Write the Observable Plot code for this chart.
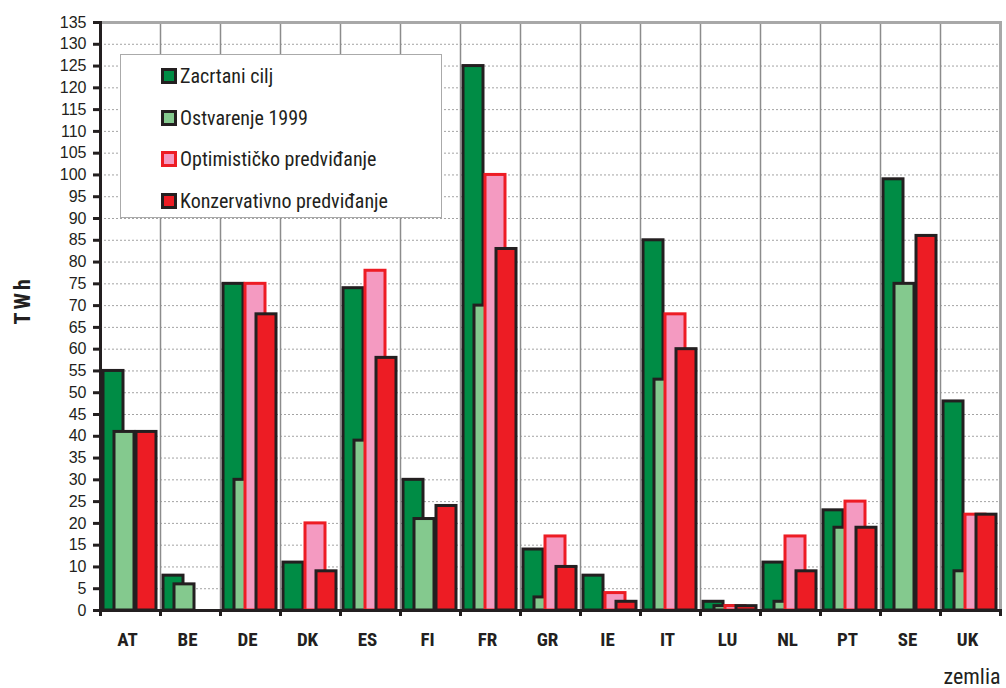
<!DOCTYPE html>
<html>
<head>
<meta charset="utf-8">
<script src="https://cdn.jsdelivr.net/npm/d3@7"></script>
<script src="https://cdn.jsdelivr.net/npm/@observablehq/plot@0.6"></script>
<style>
  html, body { margin: 0; padding: 0; background: #fff; }
  #wrap { position: relative; width: 1006px; height: 688px; }
  #legend { position: absolute; left: 120px; top: 54px; width: 320px; height: 162px;
    border: 1.5px solid #aaaaaa; background: #fff;
    font-family: "Liberation Sans Narrow", "Roboto Condensed", "DejaVu Sans Condensed", sans-serif;
    font-size: 20px; color: #231f20; }
  .item { position: absolute; left: 40px; height: 20px; display: flex; align-items: center; }
  .sw { width: 10px; height: 10px; border: 3px solid #231f20; margin-right: 3px; }
  .twh { letter-spacing: 3px; }
</style>
</head>
<body>
<div id="wrap"><div id="chart"></div><div id="legend"></div></div>
<script>
const countries = ["AT","BE","DE","DK","ES","FI","FR","GR","IE","IT","LU","NL","PT","SE","UK"];
const zacrtaniCilj = [55, 8, 75, 11, 74, 30, 125, 14, 8, 85, 2, 11, 23, 99, 48];
const ostvarenje1999 = [41, 6, 30, null, 39, 21, 70, 3, null, 53, 1, 2, 19, 75, 9];
const optimisticko = [null, null, 75, 20, 78, null, 100, 17, 4, 68, 1, 17, 25, null, 22];
const konzervativno = [41, null, 68, 9, 58, 24, 83, 10, 2, 60, 1, 9, 19, 86, 22];
const seriesNames = ["Zacrtani cilj", "Ostvarenje 1999", "Optimističko predviđanje", "Konzervativno predviđanje"];
const yTicks = d3.range(0, 136, 5);

const seriesValues = [zacrtaniCilj, ostvarenje1999, optimisticko, konzervativno];
const fills = ["#008c45", "#84c98e", "#f49ac1", "#ed1c24"];
const strokes = ["#231f20", "#231f20", "#ed1c24", "#231f20"];
const dark = "#231f20";

const tables = seriesValues.map(vals =>
  countries.map((c, i) => ({country: c, value: vals[i]})).filter(d => d.value != null)
);

const narrow = "'Liberation Sans Narrow', 'Roboto Condensed', 'DejaVu Sans Condensed', sans-serif";

const barMarks = tables.map((t, i) => Plot.rectY(t, {
  x: "country", y: "value",
  insetLeft: 3 + 11 * i, insetRight: 37 - 11 * i,
  fill: fills[i], stroke: strokes[i], strokeWidth: 3
}));

const chart = Plot.plot({
  width: 1006, height: 688,
  marginLeft: 100, marginRight: 6, marginTop: 22, marginBottom: 78,
  style: {fontFamily: "'Liberation Sans', Arial, sans-serif", color: dark, background: "#fff"},
  x: {domain: countries, padding: 0, label: null},
  y: {domain: [0, 135], label: null},
  marks: [
    Plot.ruleY(d3.range(5, 135, 5), {stroke: "#a3a3a3", strokeDasharray: "2,2", strokeWidth: 1}),
    Plot.ruleX(countries.slice(1), {x: d => d, dx: -30, stroke: "#8c8c8c", strokeWidth: 1.5}),
    ...barMarks,
    Plot.frame({anchor: "top", stroke: "#a8a8a8", strokeWidth: 3}),
    Plot.frame({anchor: "right", stroke: "#a8a8a8", strokeWidth: 3}),
    Plot.frame({anchor: "left", stroke: dark, strokeWidth: 3}),
    Plot.frame({anchor: "bottom", stroke: dark, strokeWidth: 3}),
    Plot.ruleX(countries, {x: d => d, dx: -30, insetTop: 588, insetBottom: -6, stroke: dark, strokeWidth: 3}),
    Plot.ruleX(countries.slice(-1), {x: d => d, dx: 30, insetTop: 588, insetBottom: -6, stroke: dark, strokeWidth: 3}),
    Plot.axisY({ticks: yTicks, tickSize: 7, tickPadding: 7, strokeWidth: 3, fontSize: 16, label: null, tickFormat: d => d}),
    Plot.axisX({tickSize: 0, tickPadding: 22, fontSize: 19, fontWeight: "bold", fontFamily: narrow, dx: -3, label: null}),
    Plot.text(["TWh"], {frameAnchor: "left", dx: -78, dy: 8, rotate: -90, fontSize: 22, fontWeight: "bold", fontFamily: narrow, fill: dark, className: "twh"}),
    Plot.text(["zemlia"], {frameAnchor: "bottom-right", textAnchor: "end", dx: 0, dy: 73, fontSize: 22, fontFamily: narrow, fill: dark})
  ]
});
document.getElementById("chart").appendChild(chart);

const legend = document.getElementById("legend");
seriesNames.forEach((name, i) => {
  const item = document.createElement("div");
  item.className = "item";
  item.style.top = (11 + i * 41.5) + "px";
  const sw = document.createElement("div");
  sw.className = "sw";
  sw.style.background = fills[i];
  sw.style.borderColor = strokes[i];
  item.appendChild(sw);
  const label = document.createElement("span");
  label.textContent = name;
  item.appendChild(label);
  legend.appendChild(item);
});
</script>
</body>
</html>
